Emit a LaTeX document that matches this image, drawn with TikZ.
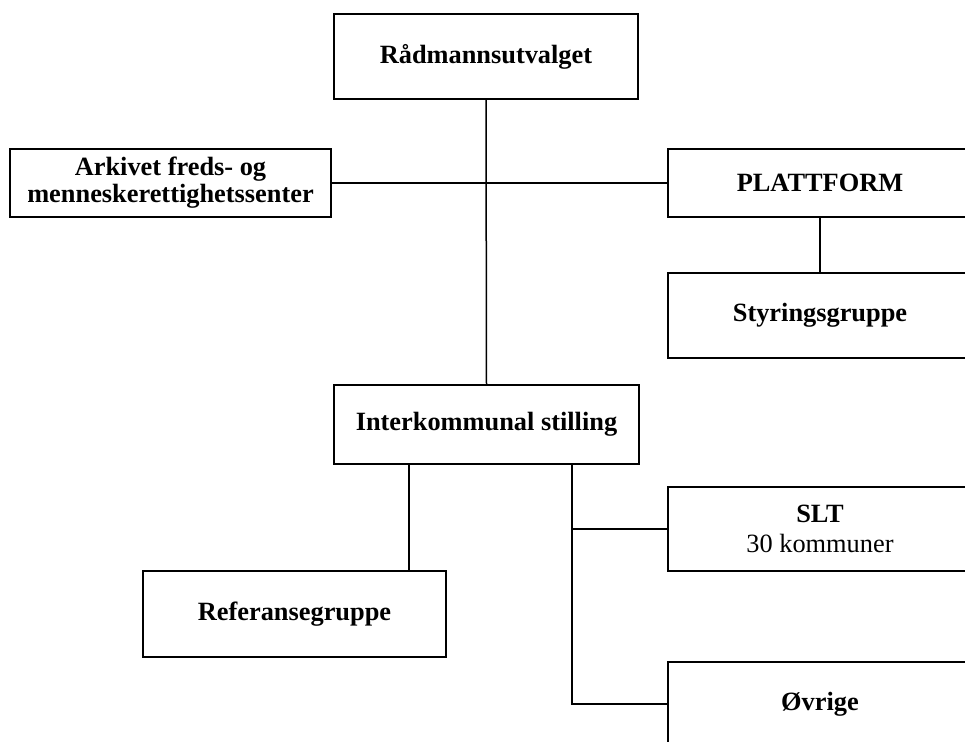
\documentclass[tikz,border=0pt]{standalone}
\usepackage{fontspec}
\setmainfont{Liberation Serif}

\begin{document}
\begin{tikzpicture}[x=0.02cm, y=-0.02cm,
  orgbox/.style={draw, line width=0.35mm, inner sep=0pt, align=center,
    font=\fontsize{15}{15.5}\selectfont\bfseries, minimum width=6.08cm},
  link/.style={line width=0.3mm}]
  \useasboundingbox (0,0) rectangle (965,742);
  \clip (0,0) rectangle (965,742);

  % Top
  \node[orgbox, minimum height=1.7cm] (raad) at (486, 56.5) {Rådmannsutvalget};

  % Side units
  \node[orgbox, minimum width=6.42cm, minimum height=1.36cm] (arkiv) at (170.5, 183)
    {Arkivet freds- og\\menneskerettighetssenter};
  \node[orgbox, minimum height=1.36cm] (platt) at (820, 183) {PLATTFORM};
  \node[orgbox, minimum height=1.7cm] (styr) at (820, 315.5) {Styringsgruppe};

  % Middle
  \node[orgbox, minimum width=6.1cm, minimum height=1.58cm] (inter) at (486.5, 424.5)
    {Interkommunal stilling};

  % Bottom
  \node[orgbox, minimum width=6.06cm, minimum height=1.72cm] (ref) at (294.5, 614)
    {Referansegruppe};
  \node[orgbox, minimum height=1.68cm] (slt) at (820, 529)
    {SLT\\[2pt]\mdseries 30 kommuner};
  \node[orgbox, minimum height=1.68cm] (ovr) at (820, 704) {Øvrige};

  % Drop points
  \coordinate (leftdrop) at (409, 0);
  \coordinate (rightdrop) at (572, 0);

  % Lines
  \draw[link] (raad.south) -- (inter.north);
  \draw[link] (arkiv.east) -- (platt.west);
  \draw[link] (platt.south) -- (styr.north);
  \draw[link] (inter.south -| leftdrop) -- (ref.north -| leftdrop);
  \draw[link] (inter.south -| rightdrop) |- (ovr.west);
  \draw[link] (rightdrop |- slt.west) -- (slt.west);
\end{tikzpicture}
\end{document}
